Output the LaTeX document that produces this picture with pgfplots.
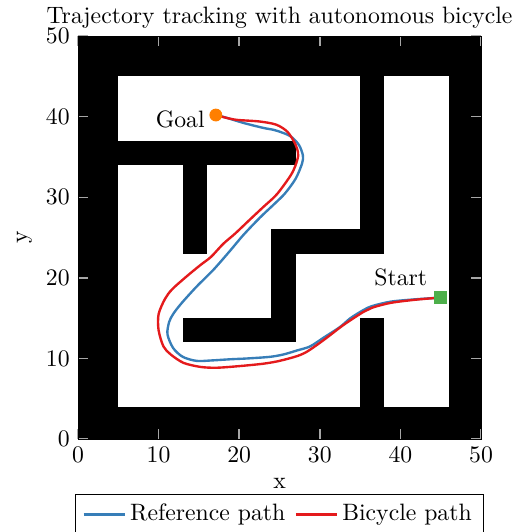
\documentclass[border=0pt]{standalone}
\usepackage{pgfplots}
\pgfplotsset{compat=1.18}

% ColorBrewer Set1
\definecolor{refblue}{RGB}{55,126,184}
\definecolor{bikered}{RGB}{228,26,28}
\definecolor{startgreen}{RGB}{77,175,74}
\definecolor{goalorange}{RGB}{255,127,0}

\begin{document}
\begin{tikzpicture}
\begin{axis}[
  scale only axis,
  width=170pt, height=170pt,
  xmin=0, xmax=50, ymin=0, ymax=50,
  xtick={0,10,...,50}, ytick={0,10,...,50},
  tick align=inside,
  major tick style={gray!70, semithick},
  axis on top,
  title={Trajectory tracking with autonomous bicycle},
  title style={yshift=-6.5pt},
  xlabel={x}, ylabel={y},
  xlabel style={yshift=0.5pt},
  ylabel style={yshift=-1pt},
  legend columns=2,
  legend style={at={(0.5,-0.137)}, anchor=north, draw=black,
    /tikz/every even column/.append style={column sep=2pt}},
  legend cell align=left,
]
% occupancy map: walls as filled rectangles
\pgfplotsset{wall/.style={fill=black, draw=none, forget plot}}
\addplot[wall] coordinates {(0,0) (50,0) (50,4) (0,4)} -- cycle;
\addplot[wall] coordinates {(0,45) (50,45) (50,50) (0,50)} -- cycle;
\addplot[wall] coordinates {(0,0) (5,0) (5,50) (0,50)} -- cycle;
\addplot[wall] coordinates {(46,0) (50,0) (50,50) (46,50)} -- cycle;
\addplot[wall] coordinates {(5,34) (27,34) (27,37) (5,37)} -- cycle;
\addplot[wall] coordinates {(13,23) (16,23) (16,34) (13,34)} -- cycle;
\addplot[wall] coordinates {(35,23) (38,23) (38,45) (35,45)} -- cycle;
\addplot[wall] coordinates {(24,23) (35,23) (35,26) (24,26)} -- cycle;
\addplot[wall] coordinates {(24,12) (27,12) (27,23) (24,23)} -- cycle;
\addplot[wall] coordinates {(13,12) (24,12) (24,15) (13,15)} -- cycle;
\addplot[wall] coordinates {(35,4) (38,4) (38,15) (35,15)} -- cycle;

% reference path
\addplot[refblue, line width=1pt, smooth, tension=0.5] coordinates {
(45,17.55) (42,17.35) (38.8,17.05) (36.5,16.5) (35.4,16.0) (33.8,15.0)
(32.5,13.9) (30.5,12.6) (28.8,11.5) (27.2,11.0) (25.5,10.5) (23.8,10.2)
(21,10.0) (18.9,9.9) (16.5,9.75) (14.7,9.7) (13.0,10.2) (11.8,11.3)
(11.1,13.0) (11.3,14.5) (11.8,15.5) (12.8,16.8) (14.7,18.9) (16.8,21.0)
(18.9,23.4) (20.5,25.3) (22.6,27.5) (24.5,29.3) (25.7,30.5) (27.0,32.3)
(27.8,34.2) (27.9,35.2) (27.4,36.5) (26.3,37.6) (24.5,38.3) (23.0,38.6)
(20.6,39.2) (18.3,39.9) (17.1,40.2)
};
\addlegendentry{Reference path}

% bicycle path
\addplot[bikered, line width=1pt, smooth, tension=0.5] coordinates {
(45,17.55) (42,17.3) (38.8,16.9) (36.5,16.3) (35.45,15.8) (33.0,14.2)
(30.5,12.3) (28.5,10.9) (27.2,10.3) (25.0,9.7) (23.0,9.35) (20,9.05)
(17.2,8.85) (15.2,8.95) (13.1,9.45) (11.5,10.5) (10.6,11.5) (10.0,13.5)
(10.0,15.5) (10.8,17.4) (11.7,18.6) (13.5,20.2) (15.2,21.6) (16.5,22.6)
(18.0,24.2) (19.5,25.5) (21.4,27.3) (23.0,28.8) (24.7,30.4) (26.5,32.9)
(27.2,34.6) (27.3,35.5) (26.96,36.6) (26.0,38.1) (24.6,39.0) (22.5,39.4)
(19.7,39.6) (18.2,39.9) (17.1,40.2)
};
\addlegendentry{Bicycle path}

% start and goal
\addplot[only marks, mark=square*, mark size=2.6pt, color=startgreen, forget plot]
  coordinates {(45,17.55)};
\addplot[only marks, mark=*, mark size=2.5pt, color=goalorange, forget plot]
  coordinates {(17.1,40.2)};

\node[anchor=base east, inner sep=0pt, xshift=-5.5pt, yshift=5pt] at (axis cs:45,17.55) {Start};
\node[anchor=east, inner sep=0pt, xshift=-4.5pt, yshift=-2pt] at (axis cs:17.1,40.2) {Goal};
\end{axis}
% page frame around the axis box
\pgfresetboundingbox
\path[use as bounding box]
  ([xshift=-32.9pt, yshift=-39.2pt]current axis.south west)
  rectangle ([xshift=13.1pt, yshift=15.2pt]current axis.north east);
\end{tikzpicture}
\end{document}
